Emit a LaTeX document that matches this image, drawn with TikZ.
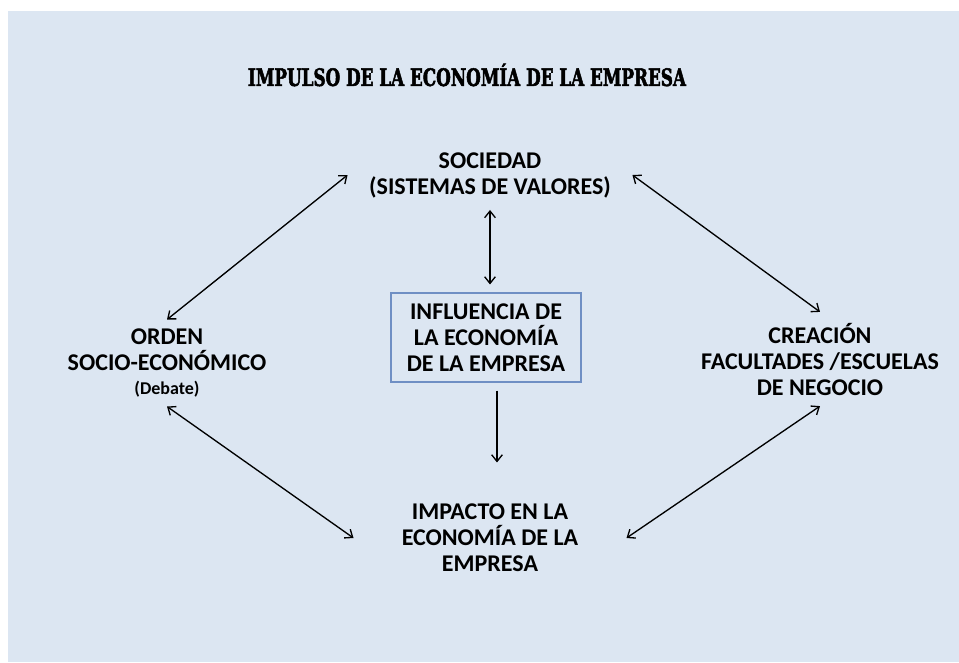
\documentclass[tikz,border=0pt]{standalone}
\usepackage{fontspec}
\setmainfont{Carlito}
\newfontfamily\titlefont{DejaVu Serif}[FakeStretch=0.7,FakeBold=2]
\usepackage{tikz}
\usetikzlibrary{arrows.meta}
\definecolor{bg}{HTML}{DCE6F2}
\definecolor{boxline}{HTML}{6F8FC4}
\definecolor{ink}{HTML}{000000}
\tikzset{
  label/.style={align=center, text=ink, font=\fontsize{18}{19.5}\selectfont\bfseries},
  link/.style={{Straight Barb[length=5pt,width=8pt]}-{Straight Barb[length=5pt,width=8pt]}, color=ink, line width=1pt},
}

\begin{document}
\begin{tikzpicture}[x=0.75pt,y=-0.75pt]
\useasboundingbox (0,0) rectangle (959,662);
\fill[bg] (8,11) rectangle (959,662);
\node[text=ink, font=\titlefont\bfseries\fontsize{18}{20}\selectfont] (titulo) at (467,75) {IMPULSO DE LA ECONOMÍA DE LA EMPRESA};
\node[label, inner xsep=16pt, inner ysep=9pt] (sociedad) at (490,175) {SOCIEDAD\\(SISTEMAS DE VALORES)};
\node[label, draw=boxline, line width=0.8pt, minimum width=142.5pt, minimum height=66.75pt] (influencia) at (486,337.5) {INFLUENCIA DE\\LA ECONOMÍA\\DE LA EMPRESA};
\node[label, inner xsep=36pt, inner ysep=3pt] (impacto) at (490,538) {IMPACTO EN LA\\ECONOMÍA DE LA\\EMPRESA};
\node[label, inner ysep=7pt] (orden) at (167,363) {ORDEN\\SOCIO-ECONÓMICO\\[-2pt]{\fontsize{13.5}{14}\selectfont (Debate)}};
\node[label, inner ysep=8pt] (creacion) at (820,359) {CREACIÓN\\FACULTADES /ESCUELAS\\DE NEGOCIO};
\draw[link] (orden.north) -- (sociedad.west);
\draw[link] (sociedad.east) -- (creacion.north);
\draw[link] (orden.south) -- (impacto.west);
\draw[link] (impacto.east) -- (creacion.south);
\draw[link, shorten >=6pt] (sociedad.south) -- (sociedad.south |- influencia.north);
\draw[link, -{Straight Barb[length=5pt,width=8pt]}, shorten <=6pt, shorten >=28pt] ([xshift=8.25pt]influencia.south) -- ([xshift=8.25pt]influencia.south |- impacto.north);
\end{tikzpicture}
\end{document}
